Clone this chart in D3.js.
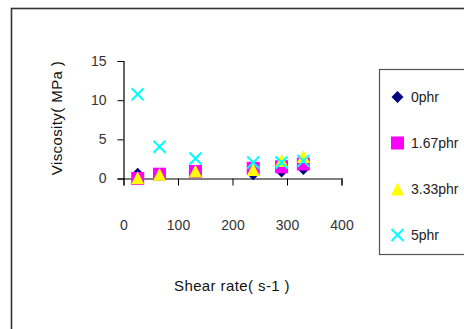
<!DOCTYPE html>
<html>
<head>
<meta charset="utf-8">
<script src="https://cdn.jsdelivr.net/npm/d3@7"></script>
<style>
  body { margin: 0; background: #fff; }
  svg { display: block; font-family: "Liberation Sans", Arial, sans-serif; }
</style>
</head>
<body>
<div id="chart"></div>
<script>
// values
var shearRate = [26, 66, 132, 238, 290, 330];
var phr0   = [0.6, 0.5, 0.8, 0.55, 0.9, 1.2];
var phr167 = [0.0, 0.55, 0.9, 1.3, 1.5, 1.85];
var phr333 = [0.1, 0.55, 0.95, 1.15, 2.3, 2.8];
var phr5   = [10.75, 4.05, 2.55, 2.05, 2.05, 2.25];
var seriesNames = ["0phr", "1.67phr", "3.33phr", "5phr"];
var xTicks = [0, 100, 200, 300, 400];
var yTicks = [0, 5, 10, 15];

var width = 464, height = 329;

var svg = d3.select("#chart").append("svg")
    .attr("width", width)
    .attr("height", height);

// outer chart border (runs past the right and bottom edges)
svg.append("rect")
    .attr("x", 11.5).attr("y", 8.5)
    .attr("width", 500).attr("height", 400)
    .attr("fill", "#fff")
    .attr("stroke", "#333").attr("stroke-width", 1.6);

var xScale = d3.scaleLinear().domain([0, 400]).range([123.5, 341.5]);
var yScale = d3.scaleLinear().domain([0, 15]).range([178.5, 61]);

// marker shapes
var shapes = {
    "0phr": s => `M0,${-s}L${s},0L0,${s}L${-s},0Z`,
    "1.67phr": s => `M${-s},${-s}H${s}V${s}H${-s}Z`,
    "3.33phr": s => `M0,${-s}L${s},${s}L${-s},${s}Z`,
    "5phr": s => `M${-s},${-s}L${s},${s}M${s},${-s}L${-s},${s}`
};
var colors = {"0phr": "#000080", "1.67phr": "#ff00ff", "3.33phr": "#ffff00", "5phr": "#00ffff"};
var sizes = {"0phr": 6, "1.67phr": 6.5, "3.33phr": 6.5, "5phr": 6};

function drawMark(g, name) {
    if (name === "5phr") {
        g.append("path").attr("d", shapes[name](sizes[name]))
            .attr("fill", "none").attr("stroke", colors[name]).attr("stroke-width", 2);
    } else {
        g.append("path").attr("d", shapes[name](sizes[name]))
            .attr("fill", colors[name]);
    }
}

// x axis
var xAxis = d3.axisBottom(xScale).tickValues(xTicks).tickSizeOuter(0).tickSize(7);
var gx = svg.append("g")
    .attr("transform", `translate(0,${yScale(0)})`)
    .call(xAxis);
gx.select(".domain").attr("stroke", "#808080").attr("stroke-width", 2);
gx.selectAll(".tick line").attr("stroke", "#000");
gx.selectAll(".tick text")
    .attr("y", 42)
    .attr("fill", "#333")
    .style("font-size", "14px");

// y axis
var yAxis = d3.axisLeft(yScale).tickValues(yTicks).tickSizeOuter(0).tickSize(6).tickPadding(11);
var gy = svg.append("g")
    .attr("transform", `translate(${xScale(0)},0)`)
    .call(yAxis);
gy.select(".domain").attr("stroke", "#000").attr("stroke-width", 1.2);
gy.selectAll(".tick line").attr("stroke", "#000");
gy.selectAll(".tick text")
    .attr("fill", "#333")
    .style("font-size", "14px");

// points
var allSeries = [phr0, phr167, phr333, phr5];
seriesNames.forEach((name, i) => {
    var pts = svg.append("g").attr("class", "series");
    allSeries[i].forEach((v, j) => {
        var g = pts.append("g")
            .attr("transform", `translate(${xScale(shearRate[j])},${yScale(v)})`);
        drawMark(g, name);
    });
});

// axis titles
svg.append("text")
    .attr("transform", "translate(62,118) rotate(-90)")
    .attr("text-anchor", "middle")
    .attr("fill", "#111")
    .style("font-size", "15px")
    .style("letter-spacing", "0.4px")
    .text("Viscosity( MPa )");

svg.append("text")
    .attr("x", 232).attr("y", 291)
    .attr("text-anchor", "middle")
    .attr("fill", "#111")
    .style("font-size", "15px")
    .style("letter-spacing", "0.4px")
    .text("Shear rate( s-1 )");

// legend
var legend = svg.append("g");
legend.append("rect")
    .attr("x", 379.5).attr("y", 69.5)
    .attr("width", 120).attr("height", 185)
    .attr("fill", "#fff")
    .attr("stroke", "#555").attr("stroke-width", 1.2);

seriesNames.forEach((name, i) => {
    var ly = 97 + i * 46;
    var g = legend.append("g").attr("transform", `translate(397.5,${ly})`);
    drawMark(g, name);
    legend.append("text")
        .attr("x", 411).attr("y", ly + 5)
        .attr("fill", "#222")
        .style("font-size", "14px")
        .text(name);
});
</script>
</body>
</html>
